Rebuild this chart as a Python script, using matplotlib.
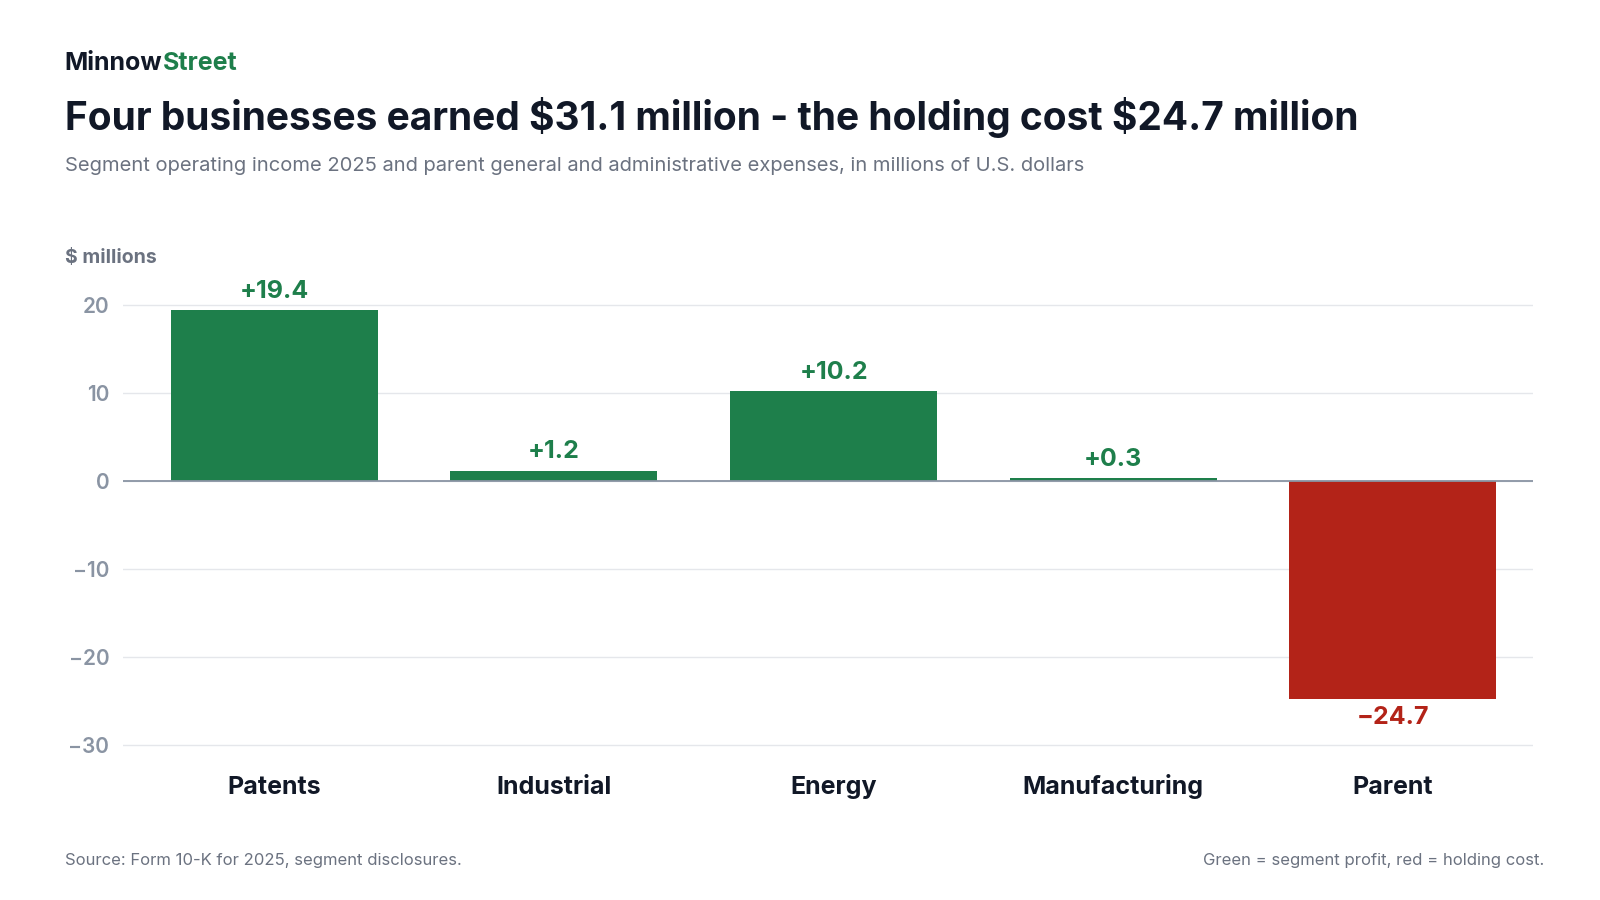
import matplotlib
matplotlib.use("Agg")
import matplotlib.pyplot as plt

categories = ["Patents", "Industrial", "Energy", "Manufacturing", "Parent"]
values = [19.4, 1.2, 10.2, 0.3, -24.7]
labels = ["+19.4", "+1.2", "+10.2", "+0.3", "\u221224.7"]
yticks = [-30, -20, -10, 0, 10, 20]

GREEN = "#1e7f4b"
RED = "#b32318"
DARK = "#111827"
GRAY = "#6b7280"
TICK = "#8a94a3"

plt.rcParams["font.family"] = ["Inter", "DejaVu Sans"]

fig = plt.figure(figsize=(16, 9), dpi=100)
ax = fig.add_axes([0.077, 0.157, 0.881, 0.519])

colors = [GREEN if v >= 0 else RED for v in values]
ax.bar(range(len(values)), values, width=0.74, color=colors, zorder=3)
for i, (v, lab) in enumerate(zip(values, labels)):
    off = 0.8 if v >= 0 else -0.8
    ax.text(i, v + off, lab, ha="center", va="bottom" if v >= 0 else "top",
            fontsize=18, fontweight="bold", color=colors[i])

ax.set_xlim(-0.54, 4.5)
ax.set_ylim(-31.5, 21.5)
ax.set_yticks(yticks)
ax.set_yticklabels([f"{t}".replace("-", "\u2212") for t in yticks],
                   fontsize=15, color=TICK, fontweight="semibold")
ax.set_xticks(range(len(categories)))
ax.set_xticklabels([])
for i, c in enumerate(categories):
    ax.text(i, -35.5, c, ha="center", va="baseline", fontsize=18,
            fontweight="bold", color=DARK)
ax.tick_params(axis="both", length=0)
ax.tick_params(axis="y", pad=10)
ax.grid(axis="y", color="#e5e7eb", linewidth=1, zorder=0)
ax.axhline(0, color="#8a94a3", linewidth=1.3, zorder=4)
for s in ax.spines.values():
    s.set_visible(False)

fig.text(0.0404, 0.930, "Minnow", fontsize=18, fontweight="bold", color=DARK, va="center")
fig.text(0.1015, 0.930, "Street", fontsize=18, fontweight="bold", color=GREEN, va="center")
fig.text(0.0404, 0.870, r"Four businesses earned \$31.1 million - the holding cost \$24.7 million",
         fontsize=28, fontweight="bold", color=DARK, va="center")
fig.text(0.0404, 0.816, "Segment operating income 2025 and parent general and administrative expenses, in millions of U.S. dollars",
         fontsize=14.5, color=GRAY, va="center")
fig.text(0.0404, 0.713, r"\$ millions", fontsize=14, fontweight="bold", color=GRAY, va="center")
fig.text(0.0404, 0.044, "Source: Form 10-K for 2025, segment disclosures.",
         fontsize=12, color=GRAY, va="center")
fig.text(0.965, 0.044, "Green = segment profit, red = holding cost.",
         fontsize=12, color=GRAY, va="center", ha="right")

fig.savefig("out.png", dpi=100, facecolor="white")
